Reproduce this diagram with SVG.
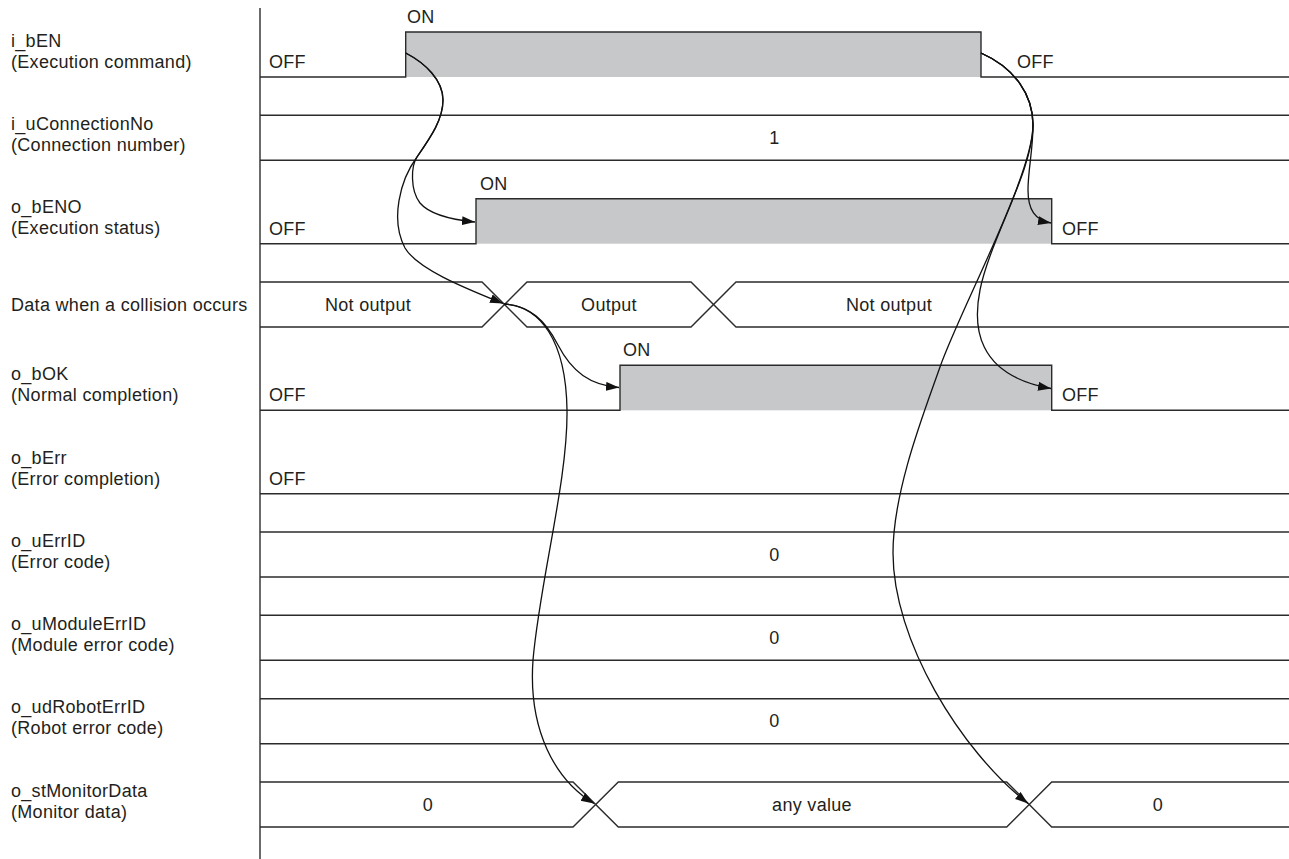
<svg xmlns="http://www.w3.org/2000/svg" width="1289" height="859" viewBox="0 0 1289 859">
<style>
text{font-family:"Liberation Sans",Arial,sans-serif;font-size:18px;fill:#231f20;letter-spacing:0.3px}
.sig{fill:none;stroke:#2b2b2b;stroke-width:1.4}
.on{fill:#c7c8ca;stroke:none}
.c{text-anchor:middle}
.arr{fill:none;stroke:#111;stroke-width:1.3;marker-end:url(#ah)}
</style>
<defs>
<marker id="ah" markerUnits="userSpaceOnUse" markerWidth="14" markerHeight="10" refX="13" refY="4.5" orient="auto">
<path d="M0,0 L13,4.5 L0,9 z" fill="#111"/>
</marker>
</defs>
<rect width="1289" height="859" fill="#fff"/>
<line x1="260" y1="8" x2="260" y2="859" class="sig"/>

<g id="i_bEN">
<text x="11" y="47">i_bEN</text>
<text x="11" y="68">(Execution command)</text>
<rect class="on" x="405.7" y="32" width="575.3" height="45"/>
<polyline class="sig" points="260,77 405.7,77 405.7,32 981,32 981,77 1289,77"/>
<text x="269" y="68">OFF</text>
<text x="407" y="23">ON</text>
<text x="1017" y="68">OFF</text>
</g>

<g id="i_uConnectionNo">
<text x="11" y="130">i_uConnectionNo</text>
<text x="11" y="151">(Connection number)</text>
<line class="sig" x1="260" y1="115.3" x2="1289" y2="115.3"/>
<line class="sig" x1="260" y1="160.3" x2="1289" y2="160.3"/>
<text x="774.5" y="144" class="c">1</text>
</g>

<g id="o_bENO">
<text x="11" y="213">o_bENO</text>
<text x="11" y="234">(Execution status)</text>
<rect class="on" x="476" y="198.7" width="575.7" height="45"/>
<polyline class="sig" points="260,243.7 476,243.7 476,198.7 1051.7,198.7 1051.7,243.7 1289,243.7"/>
<text x="269" y="235">OFF</text>
<text x="480" y="190">ON</text>
<text x="1062" y="235">OFF</text>
</g>

<g id="collision">
<text x="11" y="311">Data when a collision occurs</text>
<polyline class="sig" points="260,282 482,282 527,327 691,327 736,282 1289,282"/>
<polyline class="sig" points="260,327 482,327 527,282 691,282 736,327 1289,327"/>
<text x="368" y="311" class="c">Not output</text>
<text x="609" y="311" class="c">Output</text>
<text x="889" y="311" class="c">Not output</text>
</g>

<g id="o_bOK">
<text x="11" y="380">o_bOK</text>
<text x="11" y="401">(Normal completion)</text>
<rect class="on" x="620" y="365.3" width="431.7" height="45"/>
<polyline class="sig" points="260,410.3 620,410.3 620,365.3 1051.7,365.3 1051.7,410.3 1289,410.3"/>
<text x="269" y="401">OFF</text>
<text x="623" y="356">ON</text>
<text x="1062" y="401">OFF</text>
</g>

<g id="o_bErr">
<text x="11" y="464">o_bErr</text>
<text x="11" y="485">(Error completion)</text>
<line class="sig" x1="260" y1="493.7" x2="1289" y2="493.7"/>
<text x="269" y="485">OFF</text>
</g>

<g id="o_uErrID">
<text x="11" y="547">o_uErrID</text>
<text x="11" y="568">(Error code)</text>
<line class="sig" x1="260" y1="532" x2="1289" y2="532"/>
<line class="sig" x1="260" y1="577" x2="1289" y2="577"/>
<text x="774.5" y="561" class="c">0</text>
</g>

<g id="o_uModuleErrID">
<text x="11" y="630">o_uModuleErrID</text>
<text x="11" y="651">(Module error code)</text>
<line class="sig" x1="260" y1="615.3" x2="1289" y2="615.3"/>
<line class="sig" x1="260" y1="660.3" x2="1289" y2="660.3"/>
<text x="774.5" y="644" class="c">0</text>
</g>

<g id="o_udRobotErrID">
<text x="11" y="713">o_udRobotErrID</text>
<text x="11" y="734">(Robot error code)</text>
<line class="sig" x1="260" y1="698.7" x2="1289" y2="698.7"/>
<line class="sig" x1="260" y1="743.7" x2="1289" y2="743.7"/>
<text x="774.5" y="727" class="c">0</text>
</g>

<g id="o_stMonitorData">
<text x="11" y="797">o_stMonitorData</text>
<text x="11" y="818">(Monitor data)</text>
<polyline class="sig" points="260,782 573,782 618.3,827 1006.7,827 1051.7,782 1289,782"/>
<polyline class="sig" points="260,827 573,827 618.3,782 1006.7,782 1051.7,827 1289,827"/>
<text x="428" y="811" class="c">0</text>
<text x="812" y="811" class="c">any value</text>
<text x="1158" y="811" class="c">0</text>
</g>

<g id="connectors">
<path class="arr" d="M405.7,53 C425,63 443,80 443,100 C443,120 430,138 417,157 C411,166 410,190 420,203 C430,215 455,220 475,222"/>
<path class="arr" d="M405.7,53 C425,63 443,80 443,100 C443,120 430,138 417,157 C400,180 390,220 405,248 C418,270 470,290 503,303.5"/>
<path class="arr" d="M504,304 C530,306 545,320 558,345 C572,372 590,385 619,387.5"/>
<path class="arr" d="M504,304 C540,306 566,340 567,410 C568,480 540,580 533,660 C528,730 555,780 594,803.5"/>
<path class="arr" d="M981,53 C1015,68 1033,95 1033,125 C1033,150 1028,170 1028,190 C1028,210 1035,220 1051,223"/>
<path class="arr" d="M981,53 C1015,68 1033,95 1033,125 C1033,170 990,240 980,290 C973,325 975,375 1051,388.5"/>
<path class="arr" d="M981,53 C1015,68 1033,95 1033,125 C1033,175 960,310 940,367 C925,410 893,490 893,553 C893,640 960,750 1028,803.5"/>
</g>
</svg>
